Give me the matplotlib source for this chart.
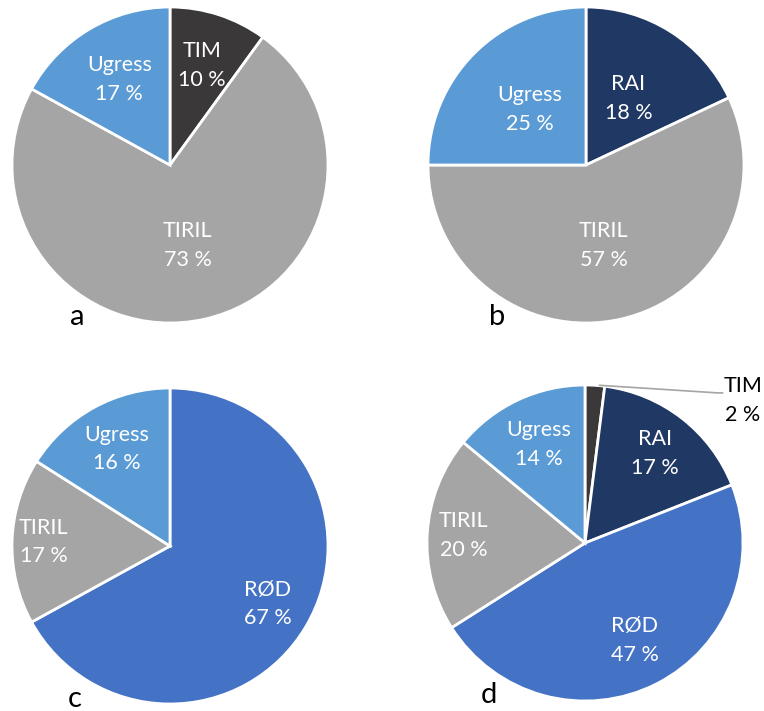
import numpy as np
import matplotlib.pyplot as plt

plt.rcParams["font.family"] = ["Lato", "DejaVu Sans"]

COLORS = {
    "TIM": "#3A3838",
    "TIRIL": "#A5A5A5",
    "Ugress": "#5B9BD5",
    "RAI": "#203864",
    "RØD": "#4472C4",
}

# share of each class per panel, clockwise from 12 o'clock
labels_a = ["TIM", "TIRIL", "Ugress"]
values_a = [10, 73, 17]

labels_b = ["RAI", "TIRIL", "Ugress"]
values_b = [18, 57, 25]

labels_c = ["RØD", "TIRIL", "Ugress"]
values_c = [67, 17, 16]

labels_d = ["TIM", "RAI", "RØD", "TIRIL", "Ugress"]
values_d = [2, 17, 47, 20, 14]

W, H = 764, 711
R = 158


def add_pie_axes(fig, cx, cy, r=R):
    # cx, cy are pixel coordinates measured from the top-left corner
    ax = fig.add_axes([(cx - r) / W, (H - cy - r) / H, 2 * r / W, 2 * r / H])
    return ax


def draw_pie(ax, labels, values, label_dist, letter, letter_pos, outside=()):
    colors = [COLORS[l] for l in labels]
    ax.pie(values, colors=colors, startangle=90, counterclock=False,
           radius=1, wedgeprops=dict(edgecolor="white", linewidth=2.0))
    total = float(sum(values))
    start = 0.0
    for i, (lab, val) in enumerate(zip(labels, values)):
        mid = np.deg2rad((start + val / 2) / total * 360)
        start += val
        if lab in outside:
            continue
        d = label_dist[i]
        x, y = d * np.sin(mid), d * np.cos(mid)
        ax.text(x, y, f"{lab}\n{val} %", ha="center", va="center",
                color="white", fontsize=15.5, linespacing=1.55)
    ax.text(letter_pos[0], letter_pos[1], letter, ha="center", va="center",
            fontsize=21, color="black")
    ax.set_xlim(-1, 1)
    ax.set_ylim(-1, 1)
    ax.set_aspect("equal")
    ax.axis("off")


fig = plt.figure(figsize=(W / 100, H / 100), dpi=100)
fig.patch.set_facecolor("white")

ax = add_pie_axes(fig, 170, 165)
draw_pie(ax, labels_a, values_a, [0.66, 0.52, 0.63], "a", (-0.59, -0.96))

ax = add_pie_axes(fig, 586, 165)
draw_pie(ax, labels_b, values_b, [0.50, 0.52, 0.50], "b", (-0.56, -0.96))

ax = add_pie_axes(fig, 170, 546)
draw_pie(ax, labels_c, values_c, [0.72, 0.80, 0.70], "c", (-0.60, -0.97))

ax = add_pie_axes(fig, 585, 543)
draw_pie(ax, labels_d, values_d, [0.0, 0.72, 0.69, 0.77, 0.69], "d", (-0.61, -0.96),
         outside=("TIM",))
# leader line for the thin TIM slice
tim_mid = np.deg2rad(values_d[0] / 2 / sum(values_d) * 360)
ax.plot([np.sin(tim_mid) + 0.03, 0.84, 0.87], [np.cos(tim_mid), 0.95, 0.95],
        color="#A5A5A5", lw=1.2, clip_on=False)
ax.text(1.0, 0.90, f"{labels_d[0]}\n{values_d[0]} %", ha="center", va="center",
        color="black", fontsize=15.5, linespacing=1.55)

fig.savefig("out.png", dpi=100, facecolor="white")
